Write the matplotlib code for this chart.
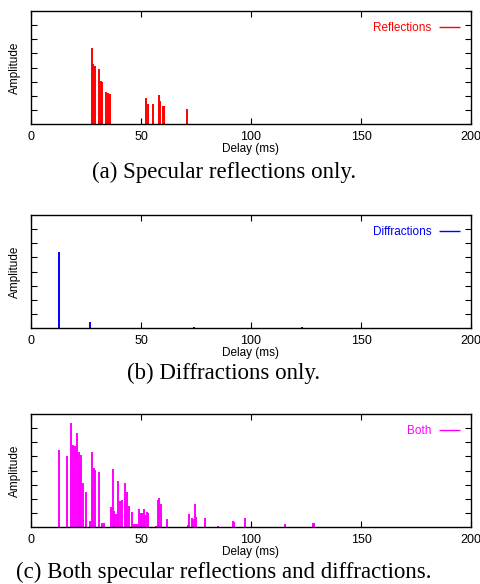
import matplotlib
matplotlib.use("Agg")
import matplotlib.pyplot as plt

# ---------------- data ----------------
refl_delay = [27.9, 28.4, 29.3, 31.0, 31.6, 32.2, 34.0, 35.2, 36.1,
              52.4, 53.2, 55.6, 58.0, 58.6, 59.9, 60.4, 71.0]
refl_amp = [5.37, 4.23, 4.11, 3.88, 3.05, 3.0, 2.25, 2.2, 2.13,
            1.82, 1.42, 1.4, 2.06, 1.63, 1.28, 1.28, 1.06]

diff_delay = [12.8, 26.9, 74.0, 123.0]
diff_amp = [5.4, 0.4, 0.05, 0.04]

both_delay = [12.8, 16.2, 18.0, 18.9, 20.2, 21.0, 21.6, 22.1, 22.7, 23.6,
              24.9, 26.8, 27.8, 27.9, 28.5, 29.3, 31.0, 32.2, 33.0, 36.4,
              37.2, 37.8, 38.4, 39.0, 39.6, 40.6, 41.4, 42.8, 43.2, 43.8,
              44.4, 46.1, 46.4, 47.2, 48.0, 49.1, 49.8, 50.2, 50.7, 51.4,
              51.8, 52.5, 53.2, 56.8, 57.7, 58.3, 58.9, 61.9, 67.6, 68.5,
              71.5, 71.9, 73.1, 73.7, 74.5, 75.2, 79.2, 84.9, 91.7, 92.3,
              97.3, 115.6, 128.1, 128.5]
both_amp = [5.44, 5.04, 7.36, 5.8, 5.7, 6.67, 5.3, 4.26, 5.1, 3.1,
            2.46, 0.43, 5.3, 2.6, 4.2, 4.05, 3.88, 0.26, 0.26, 1.45,
            4.12, 1.14, 0.95, 0.95, 3.27, 1.85, 1.9, 3.1, 1.75, 2.46,
            1.5, 1.04, 0.2, 0.2, 0.2, 1.3, 0.97, 0.97, 0.97, 1.3,
            0.85, 1.07, 0.97, 0.1, 1.9, 2.05, 1.6, 0.6, 0.03, 0.03,
            0.12, 0.95, 0.67, 0.55, 1.65, 0.69, 0.62, 0.1, 0.43, 0.38,
            0.62, 0.24, 0.28, 0.28]

x_ticks = [0, 50, 100, 150, 200]
y_ticks = [1, 2, 3, 4, 5, 6, 7]

panels = [
    (refl_delay, refl_amp, "#ff0000", "Reflections", "(a) Specular reflections only."),
    (diff_delay, diff_amp, "#0000ff", "Diffractions", "(b) Diffractions only."),
    (both_delay, both_amp, "#ff00ff", "Both", "(c) Both specular reflections and diffractions."),
]

# ---------------- figure ----------------
plt.rcParams['font.family'] = ['Liberation Sans', 'DejaVu Sans']
W, H = 481, 584
fig = plt.figure(figsize=(W / 100, H / 100), dpi=100)

ax_tops = [11, 215, 414]
ax_h = 113
ax_left, ax_right = 31, 471
caption_y = [172, 373, 572]

for (dl, am, col, lab, cap), top, cy in zip(panels, ax_tops, caption_y):
    ax = fig.add_axes([ax_left / W, (H - top - ax_h) / H,
                       (ax_right - ax_left) / W, ax_h / H])
    ax.vlines(dl, 0, am, colors=col, linewidth=1.4, label=lab)
    ax.set_xlim(0, 200)
    ax.set_ylim(0, 8)
    ax.set_xticks(x_ticks)
    ax.set_xticklabels([str(t) for t in x_ticks])
    ax.set_yticks(y_ticks)
    ax.tick_params(direction='in', length=4, width=0.8, top=True, right=True,
                   labelsize=9, pad=5)
    ax.tick_params(axis='y', labelleft=False, pad=0)
    for s in ax.spines.values():
        s.set_linewidth(1.0)
        s.set_color('black')
    ax.set_xlabel("Delay (ms)", fontsize=8.5, labelpad=0)
    ax.set_ylabel("Amplitude", fontsize=8.5, labelpad=7)
    leg = ax.legend(loc='upper right', frameon=False, markerfirst=False,
                    fontsize=8.5, handlelength=1.8, handletextpad=0.6,
                    borderaxespad=0.55)
    for h in leg.legend_handles:
        h.set_linewidth(1.0)
    for t in leg.get_texts():
        t.set_color(col)
    fig.text(224 / W, 1 - cy / H, cap, ha='center', va='center',
             fontsize=16.5, family=['Liberation Serif', 'DejaVu Serif'])

fig.savefig("out.png", dpi=100)
